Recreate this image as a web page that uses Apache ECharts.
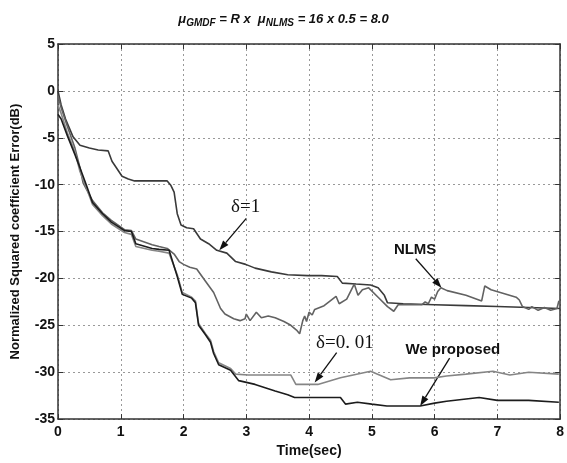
<!DOCTYPE html>
<html>
<head>
<meta charset="utf-8">
<script src="https://cdn.jsdelivr.net/npm/echarts@6/dist/echarts.min.js"></script>
<style>
html,body{margin:0;padding:0;background:#fff;}
#main{width:567px;height:463px;}
</style>
</head>
<body>
<div id="main"></div>
<script>
// delta = 1
var d1T = [0, 0.05, 0.12, 0.24, 0.35, 0.5, 0.64, 0.8, 0.86, 0.93, 1.02, 1.12, 1.22, 1.5, 1.74, 1.8, 1.85, 1.9, 1.96, 2.05, 2.16, 2.27, 2.4, 2.53, 2.69, 2.83, 2.99, 3.14, 3.4, 3.66, 3.98, 4.2, 4.45, 4.53, 4.75, 4.98, 5.1, 5.2, 5.25, 5.5, 6.0, 6.5, 7.0, 7.5, 8.0];
var d1V = [0, -1.5, -3, -4.9, -5.8, -6.1, -6.3, -6.4, -7.5, -8.2, -9.1, -9.4, -9.6, -9.6, -9.6, -10.1, -10.8, -13.1, -14.3, -14.6, -14.7, -15.8, -16.3, -17.0, -17.3, -18.2, -18.5, -18.9, -19.3, -19.6, -19.7, -19.7, -19.8, -20.5, -20.6, -20.7, -21.0, -21.8, -22.6, -22.7, -22.8, -22.9, -23.0, -23.1, -23.2];
// NLMS
var nlT = [0, 0.05, 0.15, 0.27, 0.35, 0.4, 0.55, 0.71, 0.85, 1.06, 1.17, 1.24, 1.5, 1.61, 1.74, 1.85, 1.93, 2.0, 2.1, 2.21, 2.35, 2.48, 2.59, 2.66, 2.8, 2.9, 2.98, 3.0, 3.06, 3.16, 3.24, 3.35, 3.46, 3.6, 3.71, 3.8, 3.85, 3.9, 3.93, 3.96, 4.0, 4.05, 4.09, 4.24, 4.43, 4.48, 4.6, 4.72, 4.78, 4.85, 4.95, 5.1, 5.25, 5.35, 5.42, 5.8, 5.85, 5.9, 5.95, 6.0, 6.05, 6.1, 6.2, 6.5, 6.75, 6.8, 6.9, 7.3, 7.35, 7.4, 7.5, 7.55, 7.65, 7.75, 7.85, 7.95, 7.98, 8.0];
var nlV = [-0.5, -1.8, -3.8, -6.1, -8.2, -9.8, -11.7, -13.0, -13.8, -14.8, -14.9, -15.8, -16.4, -16.6, -16.8, -17.4, -18.2, -18.5, -18.8, -19.0, -20.3, -21.5, -23.2, -23.8, -24.3, -24.5, -24.3, -23.8, -24.5, -23.6, -24.2, -24.0, -24.2, -24.6, -25.0, -25.5, -25.9, -24.5, -24.0, -24.6, -23.6, -23.9, -23.3, -22.9, -21.9, -22.7, -22.2, -20.6, -21.8, -21.2, -21.0, -22.0, -23.0, -23.5, -22.8, -22.8, -22.5, -22.7, -22.0, -22.2, -21.4, -21.0, -21.3, -21.8, -22.4, -20.8, -21.2, -22.0, -22.3, -23.0, -23.3, -23.0, -23.4, -23.1, -23.4, -23.2, -22.4, -22.6];
// delta = 0.01
var d2T = [0, 0.05, 0.15, 0.27, 0.35, 0.45, 0.55, 0.71, 0.85, 1.06, 1.17, 1.24, 1.5, 1.61, 1.77, 1.9, 1.98, 2.13, 2.19, 2.24, 2.35, 2.43, 2.48, 2.56, 2.75, 2.83, 3.03, 3.71, 3.79, 4.14, 4.5, 4.98, 5.3, 5.6, 5.99, 6.19, 6.5, 6.93, 7.2, 7.5, 7.98];
var d2V = [-1.5, -2.4, -4.5, -6.5, -8.6, -10.3, -12.1, -13.3, -14.2, -15.1, -15.3, -16.6, -17.0, -17.1, -17.3, -19.6, -21.5, -22.0, -22.4, -24.8, -25.9, -26.6, -27.8, -29.0, -29.6, -30.2, -30.3, -30.3, -31.3, -31.3, -30.6, -29.9, -30.8, -30.6, -30.6, -30.4, -30.2, -29.9, -30.3, -30.0, -30.2];
// We proposed
var prT = [0, 0.05, 0.15, 0.27, 0.35, 0.45, 0.55, 0.71, 0.85, 1.06, 1.17, 1.24, 1.5, 1.61, 1.77, 1.9, 1.98, 2.13, 2.19, 2.24, 2.35, 2.43, 2.48, 2.56, 2.75, 2.88, 3.14, 3.46, 3.66, 3.77, 4.5, 4.58, 4.77, 5.0, 5.24, 5.77, 6.0, 6.19, 6.71, 7.0, 7.5, 7.98];
var prV = [-2.5, -3.0, -4.8, -6.8, -8.2, -10.0, -11.9, -13.1, -14.0, -14.9, -15.0, -16.3, -16.8, -16.9, -17.0, -19.8, -21.7, -22.1, -22.6, -25.0, -26.0, -26.8, -28.0, -29.2, -29.8, -30.9, -31.3, -32.0, -32.4, -32.7, -32.7, -33.4, -33.2, -33.4, -33.6, -33.6, -33.3, -33.1, -32.7, -33.0, -33.0, -33.2];

var xTicks = [0, 1, 2, 3, 4, 5, 6, 7, 8];
var yTicks = [5, 0, -5, -10, -15, -20, -25, -30, -35];

// labels with arrows: text position, arrow tail, arrow tip, in data units
var notes = [
    {text: 'δ=1', serif: true, at: [2.99, -12.4], from: [3.0, -13.6], to: [2.57, -17.0]},
    {text: 'NLMS', serif: false, at: [5.69, -17.0], from: [5.7, -17.9], to: [6.11, -21.0]},
    {text: 'δ=0. 01', serif: true, at: [4.57, -26.9], from: [4.44, -27.9], to: [4.09, -31.1]},
    {text: 'We proposed', serif: false, at: [6.29, -27.6], from: [6.24, -28.5], to: [5.77, -33.6]}
];

function pairs(t, v) {
    var out = [];
    for (var i = 0; i < t.length; i++) out.push([t[i], v[i]]);
    return out;
}

var chart = echarts.init(document.getElementById('main'));

var axisFont = {fontFamily: 'Liberation Sans', fontWeight: 'bold', fontSize: 14, color: '#111'};
var boxLine = {show: true, onZero: false, lineStyle: {color: '#333', width: 1.5}};
var inTick = {show: true, inside: true, length: 5, lineStyle: {color: '#333'}};

function lineSeries(name, t, v, color) {
    return {
        name: name,
        type: 'line',
        xAxisIndex: 0,
        yAxisIndex: 0,
        showSymbol: false,
        symbol: 'none',
        lineStyle: {color: color, width: 1.6},
        data: pairs(t, v)
    };
}

chart.setOption({
    animation: false,
    backgroundColor: '#fff',
    title: {
        left: 'center',
        top: 5,
        text: '{m|μ}{s|GMDF}{n| = R x  }{m|μ}{s|NLMS}{n| = 16 x 0.5 = 8.0}',
        textStyle: {
            rich: {
                m: {fontFamily: 'Liberation Sans', fontStyle: 'italic', fontWeight: 'bold', fontSize: 13, color: '#111'},
                s: {fontFamily: 'Liberation Sans', fontStyle: 'italic', fontWeight: 'bold', fontSize: 10, color: '#111', padding: [8, 0, 0, 0]},
                n: {fontFamily: 'Liberation Sans', fontStyle: 'italic', fontWeight: 'bold', fontSize: 13, color: '#111'}
            }
        }
    },
    grid: {left: 58, right: 4, top: 44, bottom: 39},
    xAxis: [{
        type: 'value',
        min: 0, max: 8, interval: 1,
        name: 'Time(sec)',
        nameLocation: 'middle',
        nameGap: 22,
        nameTextStyle: axisFont,
        axisLine: boxLine,
        axisTick: inTick,
        axisLabel: {margin: 6, fontFamily: 'Liberation Sans', fontWeight: 'bold', fontSize: 14, color: '#111',
            formatter: function (v) { return xTicks.indexOf(v) >= 0 ? String(v) : ''; }},
        splitLine: {show: true, lineStyle: {color: '#999', type: [2, 3], width: 1}}
    }, {
        type: 'value',
        position: 'top',
        min: 0, max: 8, interval: 1,
        axisLine: boxLine,
        axisTick: inTick,
        axisLabel: {show: false},
        splitLine: {show: false}
    }],
    yAxis: [{
        type: 'value',
        min: -35, max: 5, interval: 5,
        name: 'Normalized Squared coefficient Error(dB)',
        nameLocation: 'middle',
        nameGap: 36,
        nameTextStyle: {fontFamily: 'Liberation Sans', fontWeight: 'bold', fontSize: 13, color: '#111'},
        axisLine: boxLine,
        axisTick: inTick,
        axisLabel: {margin: 3, fontFamily: 'Liberation Sans', fontWeight: 'bold', fontSize: 14, color: '#111',
            formatter: function (v) { return yTicks.indexOf(v) >= 0 ? String(v) : ''; }},
        splitLine: {show: true, lineStyle: {color: '#999', type: [2, 3], width: 1}}
    }, {
        type: 'value',
        position: 'right',
        min: -35, max: 5, interval: 5,
        axisLine: boxLine,
        axisTick: inTick,
        axisLabel: {show: false},
        splitLine: {show: false}
    }],
    series: [
        lineSeries('δ=1', d1T, d1V, '#3a3a3a'),
        lineSeries('NLMS', nlT, nlV, '#626262'),
        lineSeries('δ=0.01', d2T, d2V, '#858585'),
        lineSeries('We proposed', prT, prV, '#1c1c1c')
    ]
});

// annotations placed through the chart's own scales
var g = [];
notes.forEach(function (n) {
    var p = chart.convertToPixel({gridIndex: 0}, n.at);
    var a = chart.convertToPixel({gridIndex: 0}, n.from);
    var b = chart.convertToPixel({gridIndex: 0}, n.to);
    g.push({
        type: 'text',
        x: p[0], y: p[1],
        style: {
            text: n.text,
            align: 'center',
            verticalAlign: 'middle',
            font: n.serif ? '19px "Liberation Serif"' : 'bold 15px "Liberation Sans"',
            fill: '#111'
        }
    });
    var dx = b[0] - a[0], dy = b[1] - a[1];
    var len = Math.sqrt(dx * dx + dy * dy);
    var ux = dx / len, uy = dy / len;
    var hl = 10, hw = 3.5;
    var bx = b[0] - ux * hl, by = b[1] - uy * hl;
    g.push({
        type: 'line',
        shape: {x1: a[0], y1: a[1], x2: bx, y2: by},
        style: {stroke: '#111', lineWidth: 1.3}
    });
    g.push({
        type: 'polygon',
        shape: {points: [[b[0], b[1]], [bx - uy * hw, by + ux * hw], [bx + uy * hw, by - ux * hw]]},
        style: {fill: '#111'}
    });
});
chart.setOption({graphic: g});
</script>
</body>
</html>
